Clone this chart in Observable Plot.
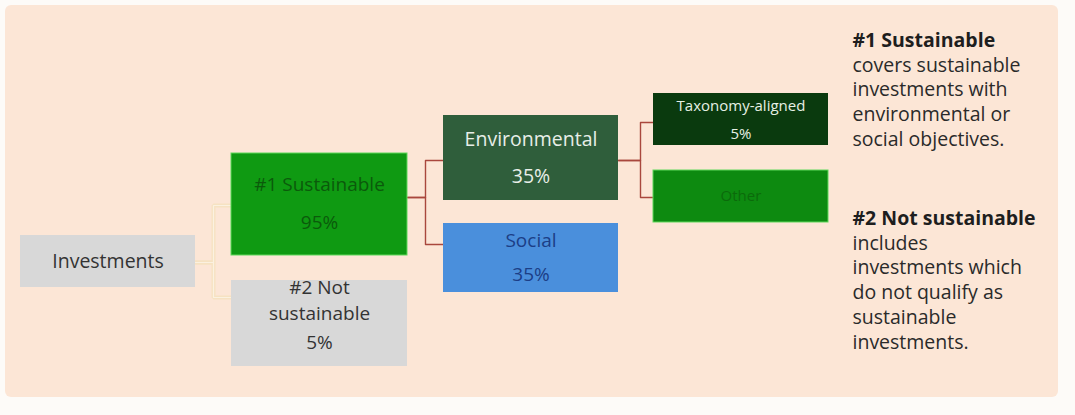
<!DOCTYPE html>
<html>
<head>
<meta charset="utf-8">
<script src="https://cdn.jsdelivr.net/npm/d3@7"></script>
<script src="https://cdn.jsdelivr.net/npm/@observablehq/plot@0.6"></script>
<style>
  html, body { margin: 0; padding: 0; background: #fdfbf8; }
  #chart svg { display: block; }
</style>
</head>
<body>
<div id="chart"></div>
<script>
// ---- data ----
const nodeNames = ["Investments", "#1 Sustainable", "#2 Not sustainable", "Environmental", "Social", "Taxonomy-aligned", "Other"];
const nodeLabels = ["Investments", "#1 Sustainable", "#2 Not\nsustainable", "Environmental", "Social", "Taxonomy-aligned", "Other"];
const nodeShares = [null, "95%", "5%", "35%", "35%", "5%", null];
const nodeParents = [null, 0, 0, 1, 1, 3, 3];
const noteHeads = ["#1 Sustainable", "#2 Not sustainable"];
const noteBodies = [
  ["covers sustainable", "investments with", "environmental or", "social objectives."],
  ["includes", "investments which", "do not qualify as", "sustainable", "investments."]
];

// ---- layout (presentation) ----
const depth = nodeParents.map(function f(p) { return p === null ? 0 : 1 + (nodeParents[p] === null ? 0 : f(nodeParents[p])); });
const colX = [20, 231, 443, 653];
const boxW = [175, 176, 175, 175];
const boxY = [[235, 287], [153, 255], [280, 366], [115, 200], [223, 292], [93, 145], [170, 222]];
const labelFrac = [0.5, 0.31, 0.09, 0.29, 0.25, 0.25, 0.5];
const shareFrac = [null, 0.68, 0.73, 0.72, 0.75, 0.79, null];
const fills = ["#d8d8d8", "#0f9a12", "#d8d8d8", "#2f5e3b", "#4a8fdc", "#0a3a0e", "#0d8a10"];
const inks = ["#333333", "#0b5a0b", "#333333", "#e8eee8", "#1c3e86", "#e6f0e4", "#0b6a0b"];
const labelSize = [19.5, 19, 19, 19.5, 19, 15, 15];

const boxes = nodeNames.map((n, i) => ({
  name: n, label: nodeLabels[i], share: nodeShares[i],
  x1: colX[depth[i]], x2: colX[depth[i]] + boxW[depth[i]],
  y1: boxY[i][0], y2: boxY[i][1], fill: fills[i], ink: inks[i], size: labelSize[i], i
}));

// connectors: elbow from parent right edge to each child left edge
const elbowX = [213, 425, 640];
const childEntryY = {1: 205, 2: 297, 3: 160, 4: 244, 5: 122, 6: 197};
const parentExitY = {0: 262, 1: 197, 3: 160};
const links = [];
nodeParents.forEach((p, i) => {
  if (p === null) return;
  const pb = boxes[p], cb = boxes[i], ex = elbowX[depth[p]];
  links.push({id: i, root: p === 0, pts: [[pb.x2, parentExitY[p]], [ex, parentExitY[p]], [ex, childEntryY[i]], [cb.x1, childEntryY[i]]]});
});
const linePts = links.flatMap(l => l.pts.map(([x, y]) => ({x, y, id: l.id, root: l.root})));

// text rows for boxes
const boxTexts = [];
boxes.forEach(b => {
  const cx = (b.x1 + b.x2) / 2, h = b.y2 - b.y1;
  const lines = b.label.split("\n");
  const ly = b.y1 + h * labelFrac[b.i];
  lines.forEach((t, j) => boxTexts.push({x: cx, y: ly + j * 26, t, ink: b.ink, size: b.size}));
  if (b.share) boxTexts.push({x: cx, y: b.y1 + h * shareFrac[b.i], t: b.share, ink: b.ink, size: b.size});
});

// notes
const noteTop = [40, 218];
const noteRows = [];
noteHeads.forEach((h, k) => {
  noteRows.push({x: 852, y: noteTop[k], t: h, bold: true});
  noteBodies[k].forEach((t, j) => noteRows.push({x: 852, y: noteTop[k] + 24.8 * (j + 1), t, bold: false}));
});

const font = "'Open Sans', Lato, sans-serif";
const chart = Plot.plot({
  width: 1075, height: 415,
  margin: 0,
  x: {type: "identity"}, y: {type: "identity"},
  style: {background: "#fdfbf8", fontFamily: font},
  marks: [
    Plot.rect([{x1: 5, x2: 1058, y1: 5, y2: 397}], {x1: "x1", x2: "x2", y1: "y1", y2: "y2", fill: "#fce6d6", rx: 6}),
    Plot.line(linePts.filter(d => d.root), {x: "x", y: "y", z: "id", stroke: "#f6e2c2", strokeWidth: 4, strokeLinejoin: "miter"}),
    Plot.line(linePts.filter(d => d.root), {x: "x", y: "y", z: "id", stroke: "#fbf1e0", strokeWidth: 1.2}),
    Plot.line(linePts.filter(d => !d.root), {x: "x", y: "y", z: "id", stroke: "#a9473d", strokeWidth: 1.4}),
    Plot.rect(boxes, {x1: "x1", x2: "x2", y1: "y1", y2: "y2", fill: "fill", stroke: d => d.i === 1 || d.i === 6 ? "#5ed85a" : "none", strokeWidth: 1}),
    Plot.text(boxTexts, {x: "x", y: "y", text: "t", fill: "ink", fontSize: "size", textAnchor: "middle"}),
    Plot.text(noteRows.filter(d => d.bold), {x: "x", y: "y", text: "t", fill: "#1e1e1e", fontSize: 19.5, fontWeight: "bold", textAnchor: "start"}),
    Plot.text(noteRows.filter(d => !d.bold), {x: "x", y: "y", text: "t", fill: "#2a2a2a", fontSize: 19.5, textAnchor: "start"})
  ]
});
document.getElementById("chart").appendChild(chart);
</script>
</body>
</html>
